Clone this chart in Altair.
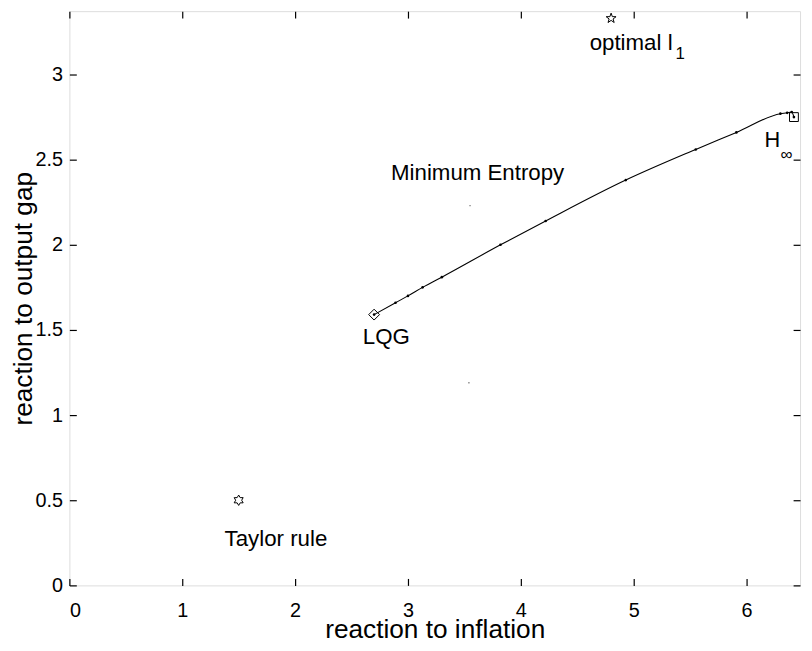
import math
import altair as alt
import pandas as pd

# ---- data ----
curve_x = [2.70, 2.89, 3.00, 3.13, 3.30, 3.82, 4.22, 4.93, 5.55, 5.91, 6.30, 6.36, 6.40, 6.42]
curve_y = [1.59, 1.66, 1.70, 1.75, 1.81, 2.00, 2.14, 2.38, 2.56, 2.66, 2.77, 2.775, 2.78, 2.75]

taylor = (1.50, 0.50)
optimal_l1 = (4.80, 3.33)
lqg = (2.70, 1.59)
hinf = (6.42, 2.75)
stray_x = [3.54, 3.55]
stray_y = [1.19, 2.23]

label_text = ["optimal l", "1", "H", "\u221e", "Minimum Entropy", "LQG", "Taylor rule"]
label_x = [4.61, 5.37, 6.16, 6.30, 2.85, 2.60, 1.375]
label_y = [3.145, 3.09, 2.576, 2.50, 2.38, 1.42, 0.233]
label_size = [22.5, 17, 22, 17, 22.5, 22.5, 22.5]

x_ticks = [0, 1, 2, 3, 4, 5, 6]
y_ticks = [0, 0.5, 1, 1.5, 2, 2.5, 3]

W, H = 738, 580
FONT = "Liberation Sans"

xs = alt.Scale(domain=[0, 6.474], nice=False, zero=False)
ys = alt.Scale(domain=[0, 3.372], nice=False, zero=False)


def star_path(n, outer=1.0, inner=0.42):
    pts = []
    for i in range(2 * n):
        r = outer if i % 2 == 0 else inner
        a = -math.pi / 2 + i * math.pi / n
        pts.append((r * math.cos(a), r * math.sin(a)))
    return "M" + " L".join(f"{px:.3f},{py:.3f}" for px, py in pts) + " Z"


PENTA = star_path(5, 1.0, 0.40)
HEXA = star_path(6, 1.0, 0.58)

curve_df = pd.DataFrame({"x": curve_x, "y": curve_y})
labels_df = pd.DataFrame({"t": label_text, "x": label_x, "y": label_y, "s": label_size})
stray_df = pd.DataFrame({"x": stray_x, "y": stray_y})

bottom_axis = alt.Axis(values=x_ticks, orient="bottom", title="reaction to inflation", format="~g",
                       offset=-7, tickSize=7, tickWidth=1.2, domain=False, grid=False,
                       labelPadding=15, labelFontSize=20, labelFont=FONT, labelColor="black",
                       tickColor="black", titleFont=FONT, titleFontSize=26.5, titleFontWeight="normal",
                       titleColor="black", titleX=W / 2, titleY=60, titleBaseline="alphabetic")
left_axis = alt.Axis(values=y_ticks, orient="left", title="reaction to output gap", format="~g",
                     offset=-7, tickSize=7, tickWidth=1.2, domain=False, grid=False,
                     labelPadding=7, labelFontSize=20, labelFont=FONT, labelColor="black",
                     tickColor="black", titleFont=FONT, titleFontSize=26.5, titleFontWeight="normal",
                     titleColor="black", titleX=-53, titleY=H / 2, titleBaseline="middle")
top_axis = alt.Axis(values=x_ticks, orient="top", title=None, offset=-7, tickSize=7, tickWidth=1.2,
                    domain=False, grid=False, labels=False, tickColor="black")
right_axis = alt.Axis(values=y_ticks, orient="right", title=None, offset=-7, tickSize=7, tickWidth=1.2,
                      domain=False, grid=False, labels=False, tickColor="black")

base = alt.Chart(curve_df)

line = base.mark_line(color="black", strokeWidth=1.1, interpolate="monotone").encode(
    x=alt.X("x:Q", scale=xs, axis=bottom_axis),
    y=alt.Y("y:Q", scale=ys, axis=left_axis),
)
dots = base.mark_point(filled=True, shape="circle", size=7, color="black", opacity=1).encode(
    x=alt.X("x:Q", scale=xs, axis=top_axis),
    y=alt.Y("y:Q", scale=ys, axis=right_axis),
)


def plain_xy():
    return dict(x=alt.X("x:Q", scale=xs, axis=None), y=alt.Y("y:Q", scale=ys, axis=None))


def marker(pt, shape, size):
    return alt.Chart(pd.DataFrame({"x": [pt[0]], "y": [pt[1]]})).mark_point(
        shape=shape, size=size, filled=False, color="black", strokeWidth=1, opacity=1
    ).encode(**plain_xy())


m_taylor = marker(taylor, HEXA, 110)
m_opt = marker(optimal_l1, PENTA, 110)
m_lqg = marker(lqg, "diamond", 120)
m_hinf = marker(hinf, "square", 80)
m_hinf_dot = alt.Chart(pd.DataFrame({"x": [hinf[0]], "y": [hinf[1]]})).mark_point(
    filled=True, shape="circle", size=5, color="black", opacity=1
).encode(**plain_xy())

stray = alt.Chart(stray_df).mark_point(filled=True, shape="square", size=2, color="#888888",
                                       opacity=1).encode(**plain_xy())

texts = alt.Chart(labels_df).mark_text(align="left", baseline="alphabetic", font=FONT,
                                       color="black").encode(
    text="t:N", size=alt.Size("s:Q", scale=None, legend=None), **plain_xy())

chart = alt.layer(line, dots, stray, m_taylor, m_opt, m_lqg, m_hinf, m_hinf_dot, texts).resolve_axis(
    x="independent", y="independent"
).properties(
    width=W, height=H,
    autosize=alt.AutoSizeParams(type="none"),
    padding={"left": 62, "top": 0, "right": 4, "bottom": 55},
).configure_view(stroke="#111111", strokeWidth=1.3).configure(background="white")

chart.save("out.html", embed_options={"renderer": "svg", "actions": False})
